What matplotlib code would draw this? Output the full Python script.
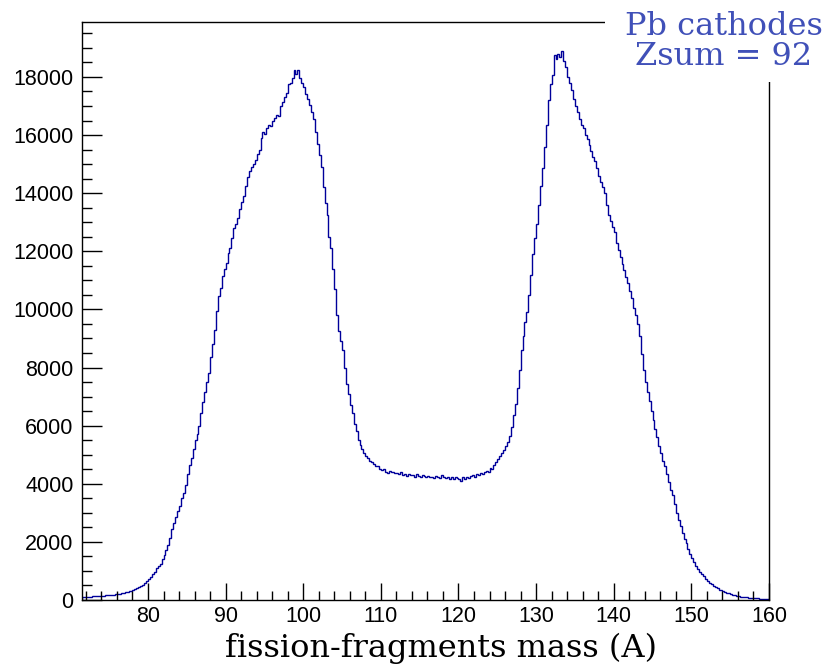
import matplotlib.pyplot as plt
import numpy as np
from matplotlib.patches import Rectangle
from matplotlib.ticker import MultipleLocator

# histogram: fission-fragment mass, 0.25 wide bins starting at A = 71.5
bin_start = 71.5
bin_width = 0.25
counts = [
    # 71.5 - 76.5
    100, 108, 112, 118, 120, 124, 130, 132, 138, 142, 146, 152, 158, 164, 170, 178, 188, 198, 210, 220,
    # 76.5 - 81.5
    230, 245, 260, 280, 300, 320, 345, 375, 405, 440, 480, 525, 575, 640, 710, 790, 880, 980, 1090, 1180,
    # 81.5 - 86.5
    1250, 1400, 1560, 1720, 1900, 2150, 2450, 2650, 2850, 3050, 3250, 3500, 3700, 3950, 4350, 4650, 4900, 5200, 5500, 5700,
    # 86.5 - 91.5
    6000, 6450, 6800, 7150, 7500, 7800, 8350, 8800, 9300, 9950, 10450, 10750, 11150, 11400, 11600, 11950, 12100, 12450, 12800, 12950,
    # 91.5 - 96.5
    13150, 13450, 13700, 13900, 14250, 14550, 14750, 14900, 15000, 15150, 15350, 15500, 15900, 16100, 16050, 16250, 16350, 16300, 16500, 16600,
    # 96.5 - 101.5
    16700, 16650, 17000, 17150, 17300, 17450, 17750, 17800, 17950, 18250, 18100, 18250, 17950, 17800, 17650, 17400, 17250, 17050, 16800, 16550,
    # 101.5 - 106.5
    16100, 15700, 15300, 14900, 14200, 13650, 13250, 12500, 12100, 11400, 10700, 9800, 9250, 8900, 8600, 8000, 7450, 7100, 6700, 6450,
    # 106.5 - 111.5
    6050, 5800, 5500, 5350, 5200, 5050, 4950, 4900, 4800, 4750, 4680, 4600, 4620, 4520, 4480, 4500, 4420, 4380, 4450, 4400,
    # 111.5 - 116.5
    4420, 4360, 4380, 4330, 4400, 4310, 4340, 4280, 4330, 4290, 4310, 4250, 4320, 4270, 4240, 4290, 4260, 4230, 4280, 4240,
    # 116.5 - 121.5
    4250, 4210, 4270, 4230, 4200, 4300, 4220, 4190, 4240, 4180, 4220, 4160, 4230, 4200, 4170, 4100, 4220, 4150, 4250, 4210,
    # 121.5 - 126.5
    4260, 4300, 4240, 4330, 4300, 4380, 4350, 4420, 4450, 4420, 4560, 4520, 4650, 4750, 4850, 4950, 5050, 5150, 5300, 5450,
    # 126.5 - 131.5
    5650, 5950, 6350, 6750, 7300, 7900, 8600, 9100, 9550, 9900, 10500, 11200, 11900, 12450, 12950, 13600, 14250, 14850, 15600, 16350,
    # 131.5 - 136.5
    17200, 17750, 18050, 18750, 18600, 18800, 18700, 18900, 18550, 18350, 18000, 17800, 17550, 17250, 17000, 16800, 16550, 16350, 16250, 16000,
    # 136.5 - 141.5
    15850, 15650, 15450, 15250, 15100, 14850, 14600, 14400, 14200, 14000, 13600, 13250, 13050, 12850, 12650, 12300, 12050, 11800, 11550, 11350,
    # 141.5 - 146.5
    11100, 10900, 10650, 10400, 10050, 9800, 9500, 9100, 8450, 7900, 7500, 7150, 6850, 6500, 6200, 5900, 5600, 5300, 5050, 4800,
    # 146.5 - 151.5
    4600, 4350, 4050, 3800, 3600, 3300, 3000, 2750, 2550, 2300, 2100, 1950, 1750, 1580, 1450, 1320, 1180, 1080, 980, 900,
    # 151.5 - 156.5
    820, 740, 660, 590, 540, 490, 440, 400, 360, 330, 300, 280, 250, 225, 200, 180, 160, 140, 125, 115,
    # 156.5 - 160
    105, 95, 88, 80, 72, 66, 62, 58, 55, 52, 50, 48, 46, 45,
]
x_label = "fission-fragments mass (A)"
title_lines = ["Pb cathodes", "Zsum = 92"]

edges = bin_start + bin_width * np.arange(len(counts) + 1)

fig = plt.figure(figsize=(8.3, 6.65), dpi=100)
ax = fig.add_axes([0.0988, 0.0977, 0.8277, 0.8692])

# step histogram, ROOT style
ax.stairs(counts, edges, color="#00009a", linewidth=1.0)

ax.set_xlim(71.5, 160)
ax.set_ylim(0, 19890)

ax.xaxis.set_major_locator(MultipleLocator(10))
ax.xaxis.set_minor_locator(MultipleLocator(2))
ax.yaxis.set_major_locator(MultipleLocator(2000))
ax.yaxis.set_minor_locator(MultipleLocator(500))

ax.tick_params(axis="both", which="both", direction="in", top=False, right=False,
               width=1.0, color="black")
ax.tick_params(axis="y", which="major", length=14.4, pad=6)
ax.tick_params(axis="y", which="minor", length=7.2)
ax.tick_params(axis="x", which="major", length=12.5, pad=4)
ax.tick_params(axis="x", which="minor", length=6.2)

for lab in ax.get_xticklabels() + ax.get_yticklabels():
    lab.set_fontfamily("Liberation Sans")
    lab.set_fontsize(15.5)

for s in ax.spines.values():
    s.set_linewidth(1.0)
    s.set_color("black")

ax.set_xlabel(x_label, fontfamily="DejaVu Serif", fontsize=23)
ax.xaxis.set_label_coords(0.5226, -0.057)

# white title box sitting over the top-right corner of the frame
fig.add_artist(Rectangle((0.729, 0.8767), 0.3, 0.2, transform=fig.transFigure,
                         facecolor="white", edgecolor="none", zorder=10))
fig.text(0.8717, 0.9474, title_lines[0], ha="center", va="baseline", color="#4050b8",
         fontfamily="DejaVu Serif", fontsize=23, zorder=11)
fig.text(0.8717, 0.9023, title_lines[1], ha="center", va="baseline", color="#4050b8",
         fontfamily="DejaVu Serif", fontsize=23, zorder=11)

plt.savefig("out.png", dpi=100)
plt.close()
